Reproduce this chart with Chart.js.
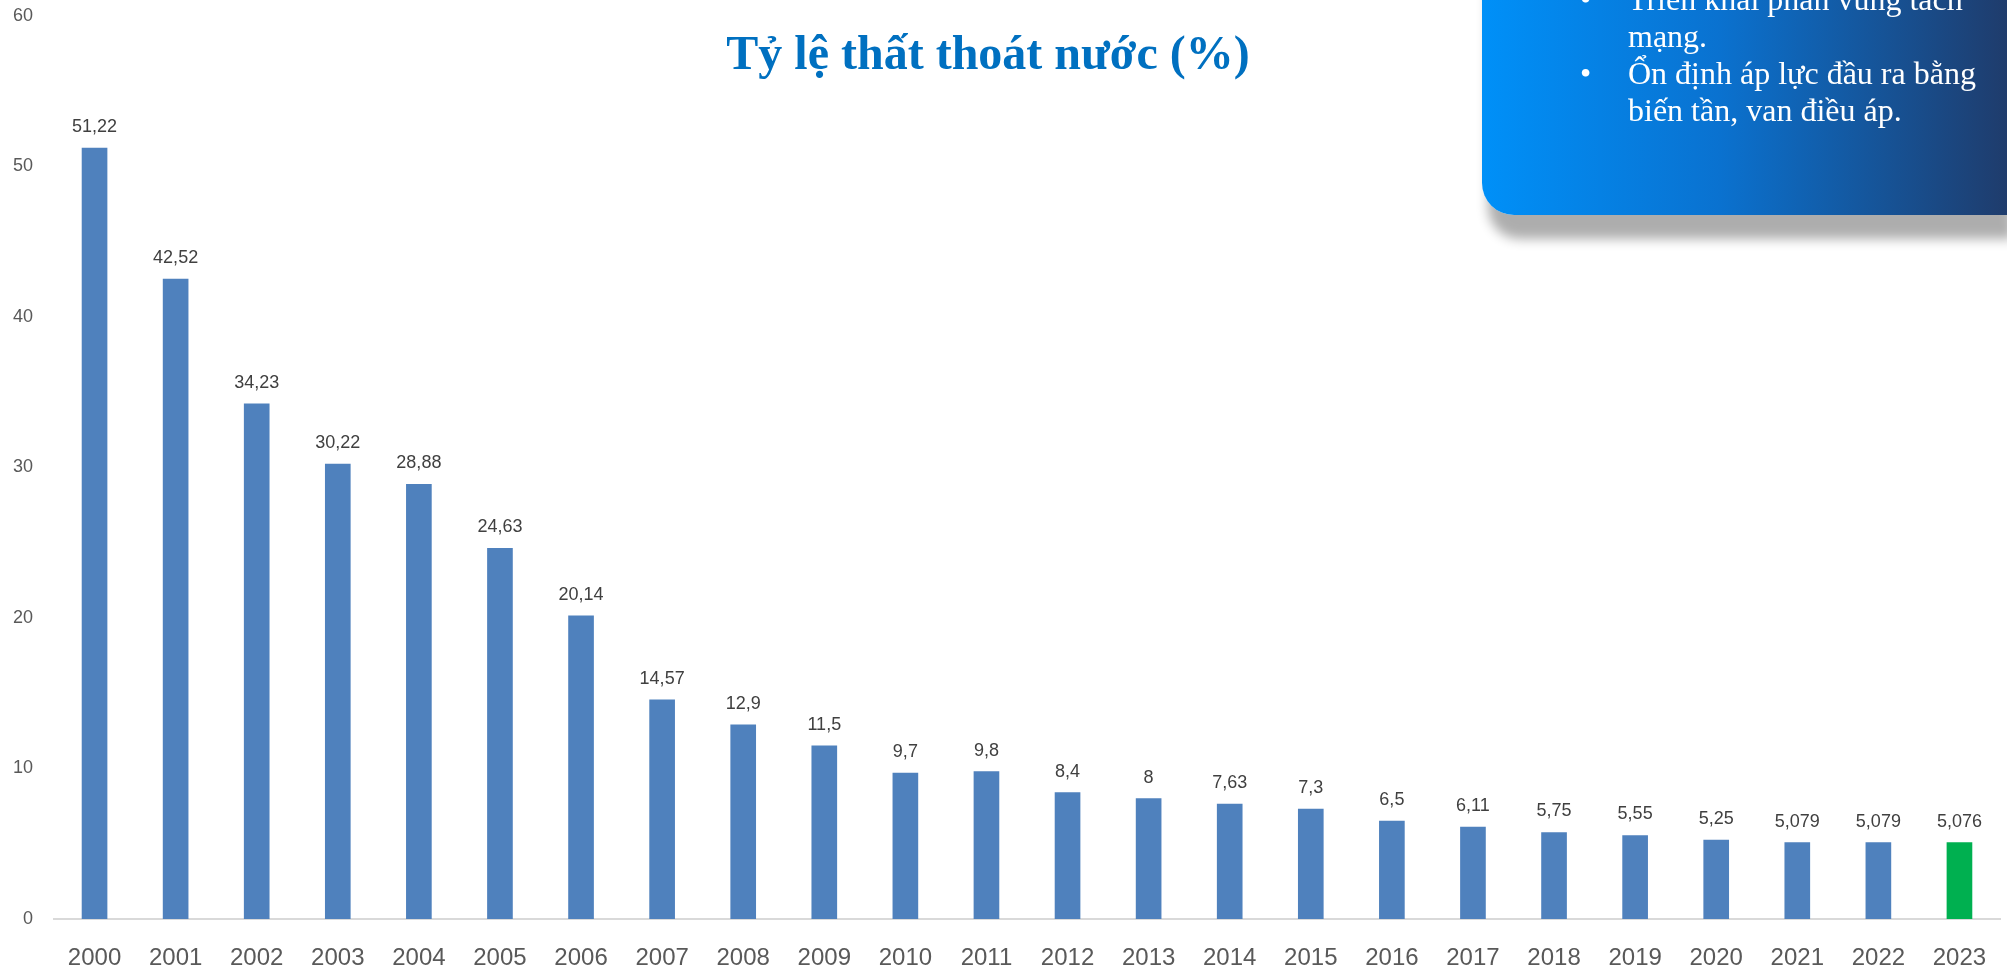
<!DOCTYPE html>
<html>
<head>
<meta charset="utf-8">
<script src="https://cdn.jsdelivr.net/npm/chart.js"></script>
<style>
  html, body { margin: 0; padding: 0; background: #fff; overflow: hidden; }
  #wrap { position: relative; width: 2007px; height: 970px; overflow: hidden; }
  #chart { position: absolute; left: 0; top: 0; }
  #title {
    position: absolute; left: 988px; top: 29px; transform: translateX(-50%);
    font-family: "Liberation Serif", "Times New Roman", serif; font-weight: bold;
    font-size: 48px; line-height: 48px; color: #0070C0; white-space: nowrap;
  }
  #box {
    position: absolute; left: 1482px; top: -200px; width: 525px; height: 415px;
    border-bottom-left-radius: 32px;
    background: linear-gradient(to right, #0090F8 0%, #0A72D0 45%, #1F3C6C 100%);
    box-shadow: 6px 24px 12px rgba(0,0,0,0.32);
  }
  #box ul {
    margin: 0; padding: 180.7px 0 0 0; list-style: none;
    font-family: "Liberation Serif", "Times New Roman", serif;
    font-size: 32px; line-height: 37px; color: #fff;
  }
  #box li { position: relative; padding-left: 146px; white-space: nowrap; }
  #box li:before { content: "\2022"; position: absolute; left: 98px; top: 0; }
</style>
</head>
<body>
<div id="wrap">
  <canvas id="chart" width="2007" height="970"></canvas>
  <div id="title">Tỷ lệ thất thoát nước (%)</div>
  <div id="box">
    <ul>
      <li>Triển khai phân vùng tách<br>mạng.</li>
      <li>Ổn định áp lực đầu ra bằng<br>biến tần, van điều áp.</li>
    </ul>
  </div>
</div>
<script>
var years = ['2000', '2001', '2002', '2003', '2004', '2005', '2006', '2007', '2008', '2009', '2010', '2011',
  '2012', '2013', '2014', '2015', '2016', '2017', '2018', '2019', '2020', '2021', '2022', '2023'];
var tyLe = [51.22, 42.52, 34.23, 30.22, 28.88, 24.63, 20.14, 14.57, 12.9, 11.5, 9.7, 9.8,
  8.4, 8, 7.63, 7.3, 6.5, 6.11, 5.75, 5.55, 5.25, 5.079, 5.079, 5.076];
var yTicks = [0, 10, 20, 30, 40, 50, 60];

var mauCot = years.map(function (y) {
  return y === '2023' ? '#00B050' : '#4F81BD';
});

// nhan gia tri tren moi cot, dau phay thap phan
var nhanGiaTri = {
  id: 'nhanGiaTri',
  afterDatasetsDraw: function (chart) {
    var ctx = chart.ctx;
    var meta = chart.getDatasetMeta(0);
    ctx.save();
    ctx.font = '18px "Liberation Sans", Arial, sans-serif';
    ctx.fillStyle = '#404040';
    ctx.textAlign = 'center';
    ctx.textBaseline = 'alphabetic';
    meta.data.forEach(function (bar, i) {
      var txt = String(tyLe[i]).replace('.', ',');
      ctx.fillText(txt, bar.x, bar.y - 16);
    });
    ctx.restore();
  }
};

// bo padding tu dong cua truc de khung ve dung vi tri
function boPadding(scale) {
  scale.paddingTop = 0;
  scale.paddingBottom = 0;
  scale.paddingLeft = 0;
  scale.paddingRight = 0;
}

var ctx = document.getElementById('chart').getContext('2d');
var myChart = new Chart(ctx, {
  type: 'bar',
  data: {
    labels: years,
    datasets: [{
      data: tyLe,
      backgroundColor: mauCot,
      barThickness: 25
    }]
  },
  options: {
    responsive: false,
    animation: false,
    layout: { padding: { top: 16, right: 7, left: 0, bottom: 0 } },
    plugins: {
      legend: { display: false },
      tooltip: { enabled: false }
    },
    scales: {
      x: {
        grid: { display: false, drawTicks: false },
        border: { color: '#D9D9D9', width: 2 },
        ticks: {
          color: '#595959',
          padding: 25,
          font: { family: '"Liberation Sans", Arial, sans-serif', size: 24 }
        },
        afterFit: function (scale) {
          scale.height = 51;
          boPadding(scale);
        }
      },
      y: {
        min: 0,
        max: 60,
        afterBuildTicks: function (scale) {
          scale.ticks = yTicks.map(function (v) { return { value: v }; });
        },
        grid: { display: false, drawTicks: false },
        border: { display: false },
        ticks: {
          color: '#595959',
          padding: 21,
          font: { family: '"Liberation Sans", Arial, sans-serif', size: 18 }
        },
        afterFit: function (scale) {
          scale.width = 54;
          boPadding(scale);
        }
      }
    }
  },
  plugins: [nhanGiaTri]
});
</script>
</body>
</html>
